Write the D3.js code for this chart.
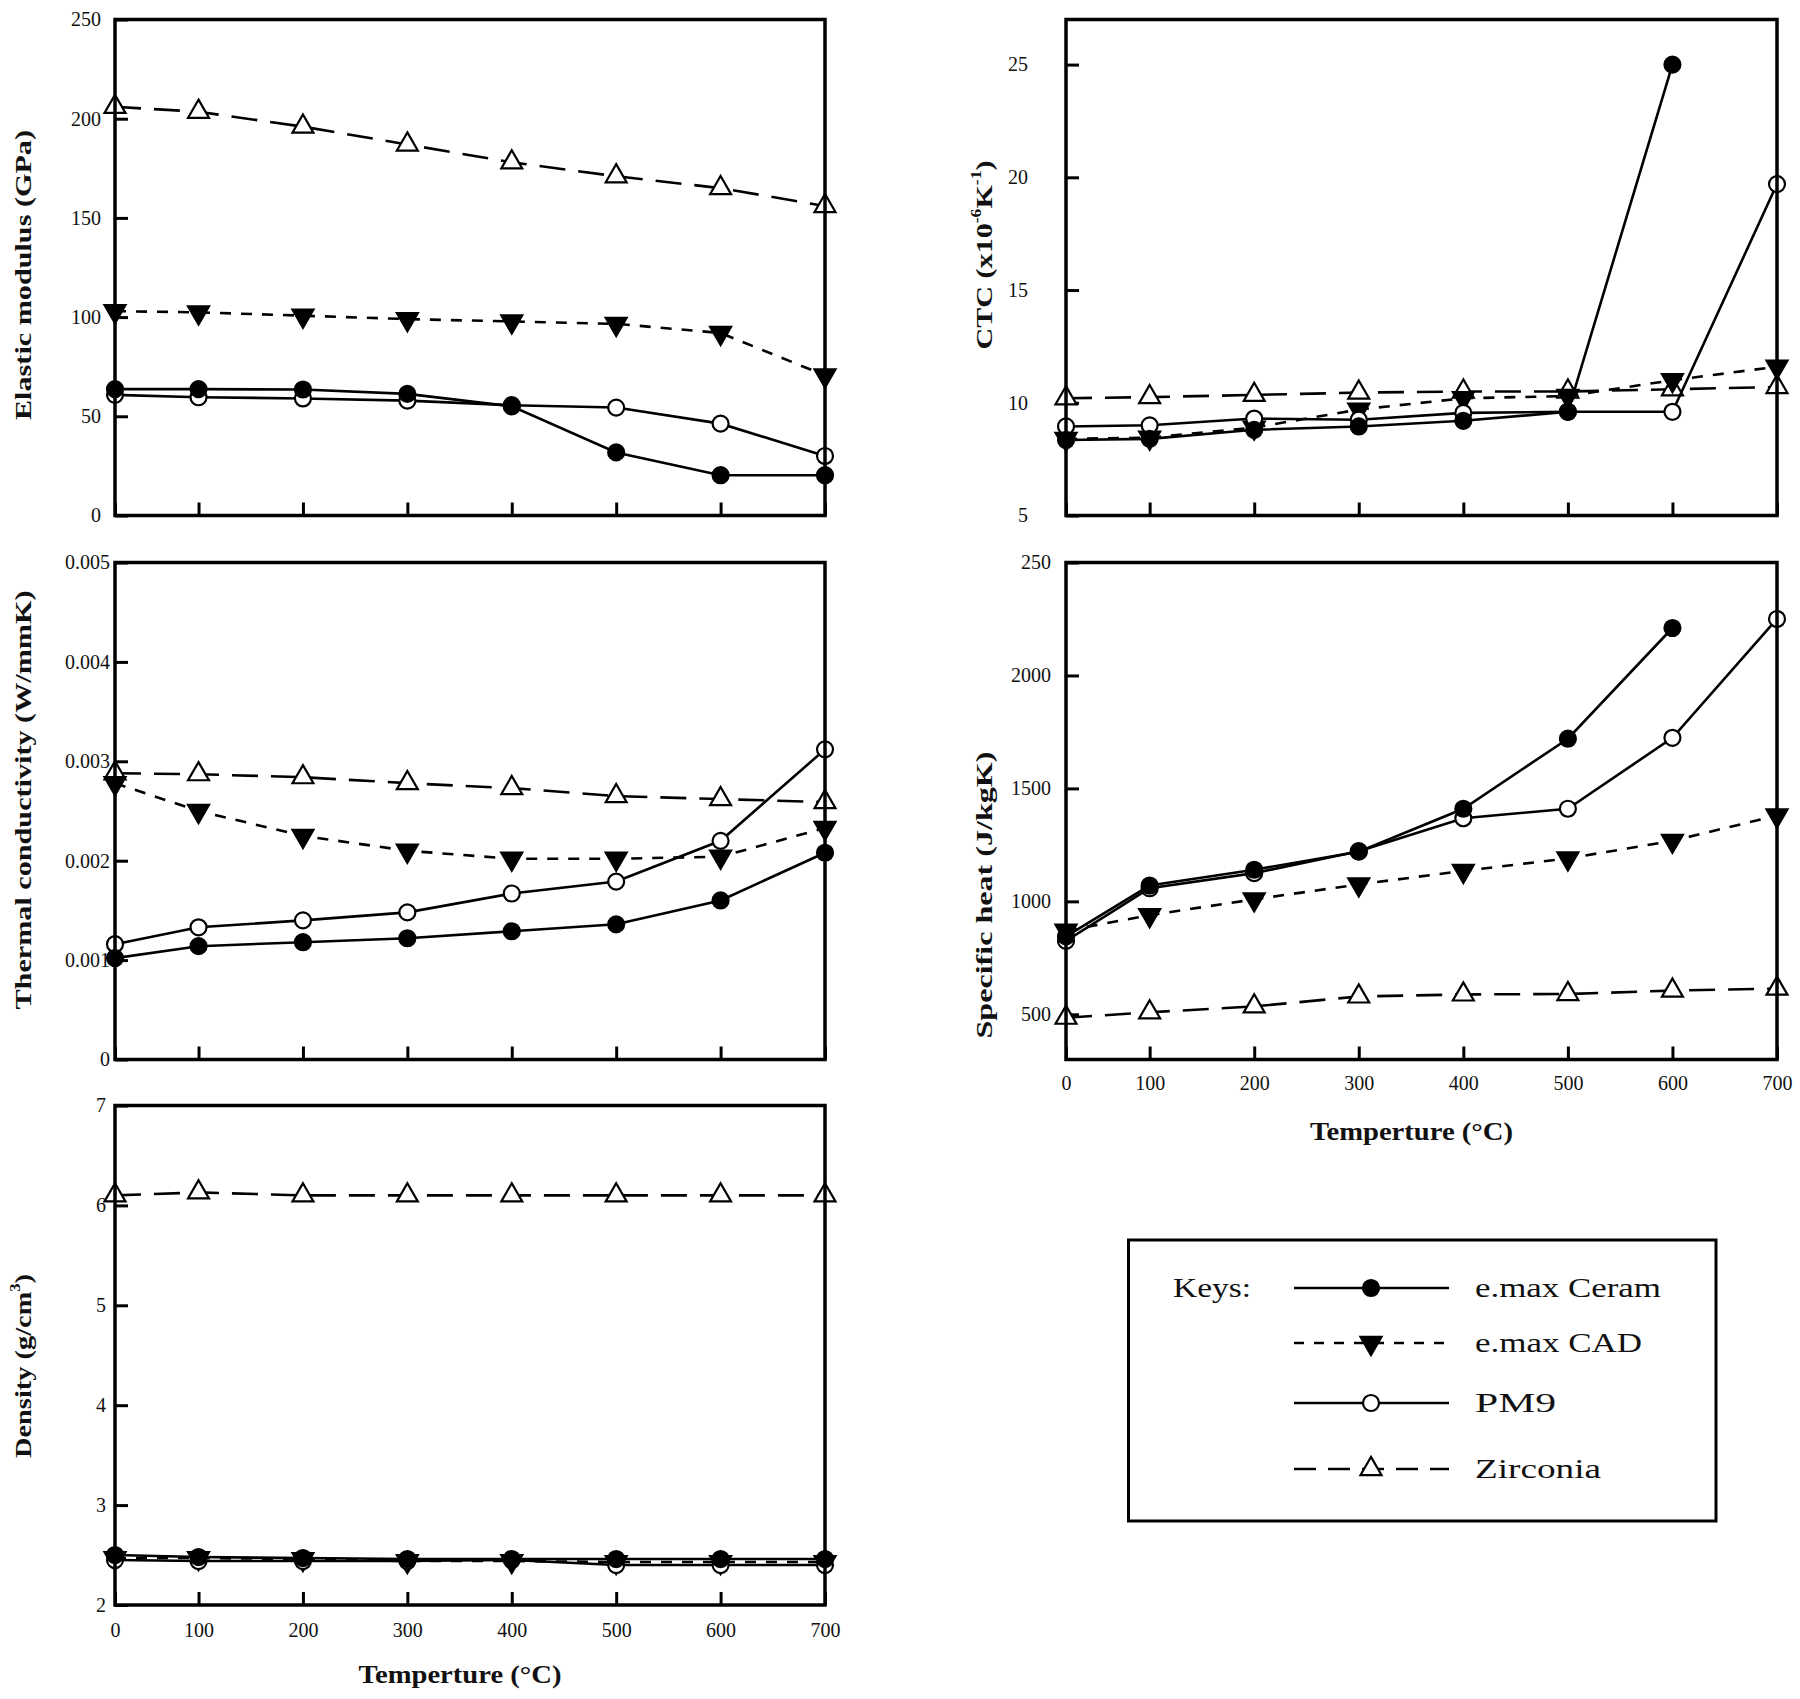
<!DOCTYPE html>
<html><head><meta charset="utf-8">
<script src="https://cdn.jsdelivr.net/npm/d3@7"></script>
<style>
body{margin:0;background:#fff}
svg{display:block}
text{font-family:"Liberation Serif","Times New Roman",serif;fill:#111}
</style>
</head><body><svg id="c" width="1800" height="1699"></svg>
<script>
// ---------- data ----------
const temps = [20,100,200,300,400,500,600,700];
const tempLabels = ["0","100","200","300","400","500","600","700"];
const seriesNames = ["e.max Ceram","e.max CAD","PM9","Zirconia"];

const elasticCeram    = [63.7,63.7,63.5,61.3,55,31.8,20.3,20.3];
const elasticCAD      = [103,102.4,100.7,99,97.8,96.6,92,70.6];
const elasticPM9      = [60.8,59.6,59,57.9,55.6,54.4,46.3,30];
const elasticZirconia = [206,203.5,196,187,178,171,165,156];
const elasticTicks = [0,50,100,150,200,250];
const elasticTickLabels = ["0","50","100","150","200","250"];

const ctcCeram    = [8.35,8.4,8.8,8.95,9.2,9.6,25,null];
const ctcCAD      = [8.4,8.45,8.9,9.7,10.2,10.3,11.0,11.6];
const ctcPM9      = [8.95,9.0,9.3,9.25,9.55,9.6,9.6,19.7];
const ctcZirconia = [10.2,10.25,10.35,10.45,10.5,10.5,10.6,10.7];
const ctcTicks = [5,10,15,20,25];
const ctcTickLabels = ["5","10","15","20","25"];

const thermCeram    = [0.00102,0.00114,0.00118,0.00122,0.00129,0.00136,0.0016,0.00208];
const thermCAD      = [0.00278,0.0025,0.00225,0.0021,0.00202,0.00202,0.00204,0.00233];
const thermPM9      = [0.00116,0.00133,0.0014,0.00148,0.00167,0.00179,0.0022,0.00312];
const thermZirconia = [0.00288,0.00287,0.00284,0.00278,0.00273,0.00265,0.00262,0.00259];
const thermTicks = [0,0.001,0.002,0.003,0.004,0.005];
const thermTickLabels = ["0","0.001","0.002","0.003","0.004","0.005"];

const heatCeram    = [845,1070,1140,1220,1410,1720,2210,null];
const heatCAD      = [870,939,1009,1075,1135,1190,1268,1380];
const heatPM9      = [825,1058,1125,1222,1368,1410,1724,2250];
const heatZirconia = [485,509,535,579,588,590,605,614];
const heatTicks = [500,1000,1500,2000,2500];
const heatTickLabels = ["500","1000","1500","2000","250"];

const densCeram    = [2.5,2.48,2.47,2.46,2.46,2.46,2.46,2.46];
const densCAD      = [2.47,2.47,2.46,2.44,2.44,2.43,2.43,2.43];
const densPM9      = [2.45,2.44,2.44,2.44,2.45,2.40,2.40,2.40];
const densZirconia = [6.1,6.13,6.1,6.1,6.1,6.1,6.1,6.1];
const densTicks = [2,3,4,5,6,7];
const densTickLabels = ["2","3","4","5","6","7"];

// ---------- styles ----------
const styles = {
  "e.max Ceram": {dash:null, marker:"circle", fill:"#000"},
  "e.max CAD":   {dash:"11,10", marker:"tridown", fill:"#000"},
  "PM9":         {dash:null, marker:"circle", fill:"#fff"},
  "Zirconia":    {dash:"26,13", marker:"triup", fill:"#fff"}
};

const panels = [
  {x0:115,x1:825,y0:19.5,y1:515.5, domain:[0,250], ticks:elasticTicks, tickLabels:elasticTickLabels, gap:14,
   series:[elasticCeram,elasticCAD,elasticPM9,elasticZirconia],
   title:[["Elastic modulus (GPa)"]], tx:23, ty:275, tlen:290, showX:false},
  {x0:1066,x1:1777,y0:19.5,y1:515.5, domain:[5,27], ticks:ctcTicks, tickLabels:ctcTickLabels, gap:38,
   series:[ctcCeram,ctcCAD,ctcPM9,ctcZirconia],
   title:[["CTC (x10"],["-6","sup"],["K"],["-1","sup"],[")"]], tx:984, ty:255, tlen:189, showX:false},
  {x0:115,x1:825,y0:562.5,y1:1059.5, domain:[0,0.005], ticks:thermTicks, tickLabels:thermTickLabels, gap:5,
   series:[thermCeram,thermCAD,thermPM9,thermZirconia],
   title:[["Thermal conductivity (W/mmK)"]], tx:23, ty:800, tlen:419, showX:false},
  {x0:1066,x1:1777,y0:562.5,y1:1059.5, domain:[300,2500], ticks:heatTicks, tickLabels:heatTickLabels, gap:15,
   series:[heatCeram,heatCAD,heatPM9,heatZirconia],
   title:[["Specific heat (J/kgK)"]], tx:984, ty:895, tlen:287, showX:true, xlabY:1083, xtitleY:1131},
  {x0:115,x1:825,y0:1105.5,y1:1605, domain:[2,7], ticks:densTicks, tickLabels:densTickLabels, gap:9,
   series:[densCeram,densCAD,densPM9,densZirconia],
   title:[["Density (g/cm"],["3","sup"],[")"]], tx:23, ty:1366, tlen:184, showX:true, xlabY:1630, xtitleY:1674}
];

const svg = d3.select("#c");

function drawMarker(g, type, fill, x, y){
  if(type==="circle"){
    g.append("circle").attr("cx",x).attr("cy",y).attr("r",8)
      .attr("fill",fill).attr("stroke","#000").attr("stroke-width",2.2);
  } else {
    const sym = d3.symbol().type(d3.symbolTriangle).size(190)();
    g.append("path").attr("d",sym)
      .attr("transform",`translate(${x},${y})` + (type==="tridown"?" rotate(180)":""))
      .attr("fill",fill).attr("stroke","#000").attr("stroke-width",2.2);
  }
}

panels.forEach(p=>{
  const x = d3.scaleLinear().domain([20,700]).range([p.x0,p.x1]);
  const y = d3.scaleLinear().domain(p.domain).range([p.y1,p.y0]);
  const g = svg.append("g");

  // y axis ticks (inward) + labels
  const ya = d3.axisLeft(y).tickValues(p.ticks).tickSize(-13).tickPadding(p.gap)
    .tickFormat((d,i)=>p.tickLabels[i]);
  const yg = g.append("g").attr("transform",`translate(${p.x0},0)`).call(ya);
  yg.select(".domain").remove();
  yg.selectAll("line").attr("stroke","#000").attr("stroke-width",3);
  yg.selectAll("text").attr("font-size",20).attr("fill","#333").style("font-family","Liberation Serif");

  // x axis ticks (inward)
  const xa = d3.axisBottom(x).tickValues(temps).tickSize(-13).tickPadding(0)
    .tickFormat((d,i)=> p.showX ? tempLabels[i] : "");
  const xg = g.append("g").attr("transform",`translate(0,${p.y1})`).call(xa);
  xg.select(".domain").remove();
  xg.selectAll("line").attr("stroke","#000").attr("stroke-width",3);
  xg.selectAll("text").attr("font-size",20).attr("fill","#333").style("font-family","Liberation Serif")
    .attr("dy","0.35em").attr("y", p.xlabY ? (p.xlabY - p.y1) : 0);

  // series
  const order = [3,1,2,0];
  order.forEach(si=>{
    const name = seriesNames[si];
    const st = styles[name];
    const pts = temps.map((t,i)=>[t,p.series[si][i]]).filter(d=>d[1]!==null);
    const line = d3.line().x(d=>x(d[0])).y(d=>y(d[1]));
    g.append("path").attr("d",line(pts)).attr("fill","none").attr("stroke","#000")
      .attr("stroke-width",2.6).attr("stroke-dasharray",st.dash);
    pts.forEach(d=>drawMarker(g, st.marker, st.fill, x(d[0]), y(d[1])));
  });

  // frame
  g.append("rect").attr("x",p.x0).attr("y",p.y0).attr("width",p.x1-p.x0).attr("height",p.y1-p.y0)
    .attr("fill","none").attr("stroke","#000").attr("stroke-width",3.5);

  // y title
  const t = g.append("text").attr("transform",`translate(${p.tx},${p.ty}) rotate(-90)`)
    .attr("text-anchor","middle").attr("dominant-baseline","central")
    .attr("font-size",24).attr("font-weight","bold").attr("fill","#333")
    .attr("textLength",p.tlen).attr("lengthAdjust","spacingAndGlyphs");
  p.title.forEach(part=>{
    const ts = t.append("tspan").text(part[0]);
    if(part[1]==="sup") ts.attr("font-size",14).attr("baseline-shift","super");
  });

  if(p.showX){
    g.append("text").attr("x",(p.x0+p.x1)/2 - 10).attr("y",p.xtitleY)
      .attr("text-anchor","middle").attr("dominant-baseline","central")
      .attr("font-size",25).attr("font-weight","bold").attr("fill","#333")
      .attr("textLength",203).attr("lengthAdjust","spacingAndGlyphs")
      .text("Temperture (°C)");
  }
});

// legend
const lg = svg.append("g");
lg.append("rect").attr("x",1128.5).attr("y",1240).attr("width",587.5).attr("height",281)
  .attr("fill","none").attr("stroke","#000").attr("stroke-width",3);
lg.append("text").attr("x",1173).attr("y",1288).attr("dominant-baseline","central")
  .attr("font-size",27).attr("fill","#222").attr("textLength",78).attr("lengthAdjust","spacingAndGlyphs").text("Keys:");
const legRows = [1288,1343,1403,1469];
const legLens = [186,167,81,126];
seriesNames.forEach((name,i)=>{
  const st = styles[name];
  lg.append("line").attr("x1",1294).attr("x2",1449).attr("y1",legRows[i]).attr("y2",legRows[i])
    .attr("stroke","#000").attr("stroke-width",2.6).attr("stroke-dasharray",st.dash ? (name==="Zirconia"?"22,12":"10,10") : null);
  drawMarker(lg, st.marker, st.fill, 1371, legRows[i]);
  lg.append("text").attr("x",1475).attr("y",legRows[i]).attr("dominant-baseline","central")
    .attr("font-size",27).attr("fill","#222").attr("textLength",legLens[i]).attr("lengthAdjust","spacingAndGlyphs").text(name);
});
</script>
</body></html>
